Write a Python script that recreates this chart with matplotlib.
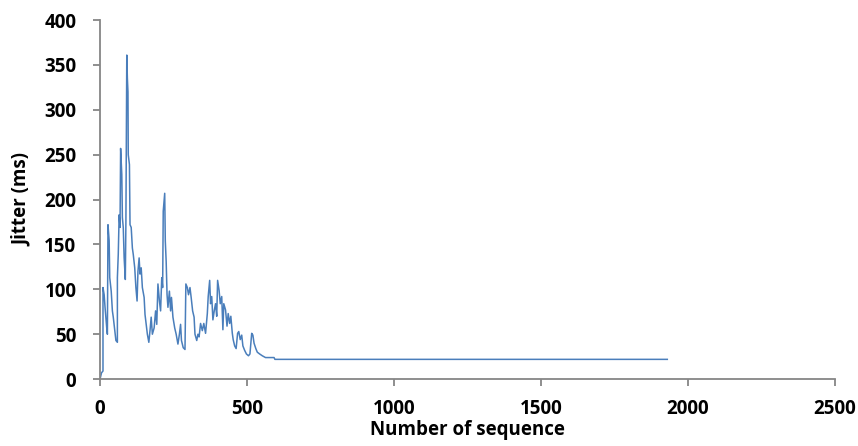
import matplotlib.pyplot as plt

# DATA
seq = [0, 5, 10, 10, 14, 17, 20, 23, 25, 27, 31, 33, 38, 42, 45, 50, 54, 59, 59,
       62, 65, 68, 70, 74, 76, 79, 82, 86, 88, 91, 93, 95, 96, 100, 102, 106, 110,
       113, 118, 122, 126, 129, 133, 136, 140, 144, 150, 153, 157, 161, 166, 170,
       174, 178, 184, 189, 193, 197, 202, 206, 210, 213, 215, 220, 222, 225, 228,
       231, 236, 240, 243, 248, 254, 259, 265, 270, 274, 277, 283, 289, 292, 297,
       301, 306, 310, 315, 320, 323, 329, 333, 337, 342, 348, 353, 359, 365, 368,
       373, 376, 380, 384, 389, 393, 397, 400, 405, 409, 414, 418, 421, 427, 432,
       436, 441, 445, 450, 453, 458, 463, 468, 472, 477, 482, 486, 492, 498, 505,
       510, 516, 520, 524, 530, 535, 543, 552, 563, 580, 592, 595, 1930]
jitter = [0, 7, 9, 102, 94, 80, 68, 56, 50, 172, 154, 113, 98, 76, 69, 54, 43, 41, 113,
          139, 183, 169, 257, 228, 180, 169, 135, 111, 176, 361, 335, 320, 250, 239,
          172, 169, 146, 139, 124, 102, 87, 120, 135, 117, 124, 102, 91, 72, 61, 50,
          41, 54, 69, 50, 57, 76, 61, 106, 87, 76, 113, 102, 187, 207, 154, 131, 94,
          80, 98, 76, 91, 69, 57, 50, 39, 50, 61, 43, 35, 33, 106, 102, 94, 102, 91,
          76, 69, 50, 43, 50, 47, 62, 54, 62, 51, 73, 92, 110, 84, 92, 66, 77, 84, 70,
          110, 99, 84, 92, 55, 84, 77, 59, 73, 62, 70, 51, 44, 37, 34, 51, 53, 44, 49,
          37, 32, 28, 26, 28, 51, 49, 40, 34, 30, 28, 26, 24, 24, 24, 22, 22]

xticks = [0, 500, 1000, 1500, 2000, 2500]
yticks = [0, 50, 100, 150, 200, 250, 300, 350, 400]

plt.rcParams['font.family'] = ['Open Sans', 'DejaVu Sans']

fig = plt.figure(figsize=(8.58, 4.46), dpi=100)
ax = fig.add_axes([0.1166, 0.150, 0.8564, 0.805])

ax.plot(seq, jitter, color='#4a7ebb', linewidth=1.1)

ax.set_xlim(0, 2500)
ax.set_ylim(0, 400)
ax.set_xticks(xticks)
ax.set_yticks(yticks)
ax.set_xticklabels([str(t) for t in xticks], fontsize=13.5, fontweight='bold')
ax.set_yticklabels([str(t) for t in yticks], fontsize=13.5, fontweight='bold')

# DESIGN
for spine in ['top', 'right']:
    ax.spines[spine].set_visible(False)
for spine in ['left', 'bottom']:
    ax.spines[spine].set_color('#868686')
    ax.spines[spine].set_linewidth(1.3)
ax.tick_params(axis='both', direction='out', length=5, width=1.3, color='#868686')
ax.tick_params(axis='y', pad=12)
ax.tick_params(axis='x', pad=9)

ax.set_xlabel('Number of sequence', fontsize=13.5, fontweight='bold', labelpad=1)
ax.set_ylabel('Jitter (ms)', fontsize=13.5, fontweight='bold', labelpad=9)

plt.savefig('out.png', dpi=100)
